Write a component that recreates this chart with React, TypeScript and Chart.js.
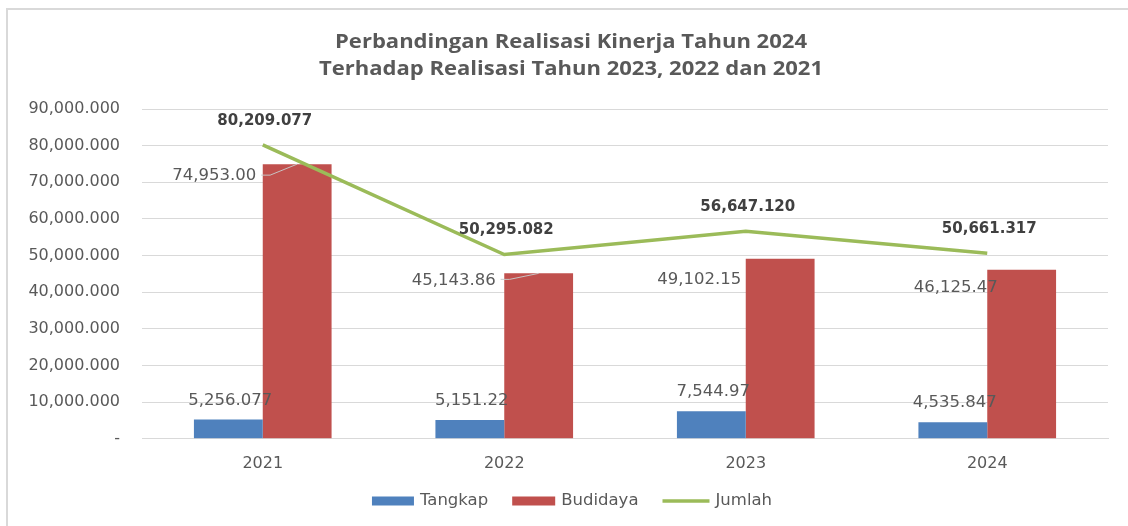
import React, { useEffect, useRef } from "react";
import { Chart, registerables } from "chart.js";

Chart.register(...registerables);

const categories = ["2021", "2022", "2023", "2024"];
const tangkap = [5256077, 5151220, 7544970, 4535847];
const budidaya = [74953000, 45143860, 49102150, 46125470];
const jumlah = [80209077, 50295082, 56647120, 50661317];

const tangkapLabels = ["5,256.077", "5,151.22", "7,544.97", "4,535.847"];
const budidayaLabels = ["74,953.00", "45,143.86", "49,102.15", "46,125.47"];
const jumlahLabels = ["80,209.077", "50,295.082", "56,647.120", "50,661.317"];

const yTickLabels = [
  "-",
  "10,000.000",
  "20,000.000",
  "30,000.000",
  "40,000.000",
  "50,000.000",
  "60,000.000",
  "70,000.000",
  "80,000.000",
  "90,000.000",
];
const yMax = 90000000;
const yStep = 10000000;

const titleLines = [
  "Perbandingan Realisasi Kinerja Tahun 2024",
  "Terhadap Realisasi Tahun 2023, 2022 dan 2021",
];

const seriesNames = ["Tangkap", "Budidaya", "Jumlah"];
const seriesColors = ["#4F81BD", "#C0504D", "#9BBB59"];

// label placement (relative to the bar element, in px)
const budidayaLabelPlacement = [
  { dx: -83, dy: 12, leader: true },
  { dx: -85, dy: 7, leader: true },
  { dx: -81, dy: 21, leader: false },
  { dx: -66, dy: 18, leader: false },
];

const FONT = '"DejaVu Sans", sans-serif';
const TEXT = "#595959";

const titlePlugin = {
  id: "stretchedTitle",
  afterDraw(chart: any) {
    const ctx = chart.ctx;
    ctx.save();
    ctx.font = `bold 19.5px "Open Sans", sans-serif`;
    ctx.fillStyle = TEXT;
    ctx.textAlign = "center";
    ctx.textBaseline = "alphabetic";
    const cx = 571;
    const baselines = [47.5, 74.5];
    titleLines.forEach((line, i) => {
      ctx.save();
      ctx.translate(cx, baselines[i]);
      ctx.scale(1.13, 1);
      ctx.fillText(line, 0, 0);
      ctx.restore();
    });
    ctx.restore();
  },
};

const legendPlugin = {
  id: "customLegend",
  afterDraw(chart: any) {
    const ctx = chart.ctx;
    ctx.save();
    ctx.font = `16.5px ${FONT}`;
    ctx.textBaseline = "middle";
    ctx.textAlign = "left";
    const boxW = [42, 43, 47];
    const gapBox = 6;
    const gapItem = 24;
    const widths = seriesNames.map((n, i) => boxW[i] + gapBox + ctx.measureText(n).width);
    const total = widths.reduce((a, b) => a + b, 0) + gapItem * (seriesNames.length - 1);
    let x = 572 - total / 2;
    const y = 501;
    seriesNames.forEach((n, i) => {
      if (i < 2) {
        ctx.fillStyle = seriesColors[i];
        ctx.fillRect(x, y - 4.5, boxW[i], 9);
      } else {
        ctx.strokeStyle = seriesColors[i];
        ctx.lineWidth = 3.5;
        ctx.beginPath();
        ctx.moveTo(x, y);
        ctx.lineTo(x + boxW[i], y);
        ctx.stroke();
      }
      ctx.fillStyle = TEXT;
      ctx.fillText(n, x + boxW[i] + gapBox, y);
      x += widths[i] + gapItem;
    });
    ctx.restore();
  },
};

const labelPlugin = {
  id: "valueLabels",
  afterDatasetsDraw(chart: any) {
    const ctx = chart.ctx;
    ctx.save();
    ctx.textAlign = "center";
    ctx.textBaseline = "middle";
    // Tangkap
    const m0 = chart.getDatasetMeta(0);
    ctx.font = `16.5px ${FONT}`;
    ctx.fillStyle = TEXT;
    m0.data.forEach((el: any, i: number) => {
      ctx.fillText(tangkapLabels[i], el.x + 2, el.y - 19);
    });
    // Budidaya
    const m1 = chart.getDatasetMeta(1);
    m1.data.forEach((el: any, i: number) => {
      const p = budidayaLabelPlacement[i];
      const tx = el.x + p.dx;
      const ty = el.y + p.dy;
      ctx.fillStyle = TEXT;
      ctx.fillText(budidayaLabels[i], tx, ty);
      if (p.leader) {
        const w = ctx.measureText(budidayaLabels[i]).width;
        const sx = tx + w / 2 + 5;
        const sy = ty - 1;
        ctx.beginPath();
        ctx.strokeStyle = "rgba(200,200,200,0.95)";
        ctx.lineWidth = 1;
        ctx.moveTo(sx, sy);
        ctx.lineTo(sx + 9, sy);
        ctx.lineTo(el.x, el.y);
        ctx.stroke();
      }
    });
    // Jumlah
    const m2 = chart.getDatasetMeta(2);
    ctx.font = `bold 15px ${FONT}`;
    ctx.fillStyle = "#404040";
    m2.data.forEach((el: any, i: number) => {
      ctx.fillText(jumlahLabels[i], el.x + 2, el.y - 24);
    });
    ctx.restore();
  },
};

export default function App() {
  const ref = useRef<HTMLCanvasElement | null>(null);

  useEffect(() => {
    if (!ref.current) return;
    const chart = new Chart(ref.current, {
      type: "bar",
      data: {
        labels: categories,
        datasets: [
          {
            type: "bar",
            label: seriesNames[0],
            data: tangkap,
            backgroundColor: seriesColors[0],
            borderWidth: 0,
            categoryPercentage: 0.57,
            barPercentage: 1,
            order: 1,
          } as any,
          {
            type: "bar",
            label: seriesNames[1],
            data: budidaya,
            backgroundColor: seriesColors[1],
            borderWidth: 0,
            categoryPercentage: 0.57,
            barPercentage: 1,
            order: 1,
          } as any,
          {
            type: "line",
            label: seriesNames[2],
            data: jumlah,
            borderColor: seriesColors[2],
            backgroundColor: seriesColors[2],
            borderWidth: 3.5,
            pointRadius: 0,
            pointHoverRadius: 0,
            tension: 0,
            order: 0,
          } as any,
        ],
      },
      options: {
        responsive: false,
        animation: false,
        layout: { padding: { left: 0, right: 20, top: 109, bottom: 38 } },
        plugins: {
          title: { display: false },
          legend: { display: false },
          tooltip: { enabled: false },
        },
        scales: {
          x: {
            grid: { display: false, drawTicks: false },
            border: { display: true, color: "#d9d9d9" },
            ticks: { color: TEXT, font: { family: FONT, size: 16 }, padding: 15 },
          },
          y: {
            min: 0,
            max: yMax,
            afterFit: (scale: any) => {
              scale.width = 142;
            },
            grid: { color: "#d9d9d9", drawTicks: false },
            border: { display: false },
            ticks: {
              stepSize: yStep,
              padding: 22,
              color: TEXT,
              font: { family: FONT, size: 16 },
              callback: (_v: any, i: number) => yTickLabels[i],
            },
          },
        },
      },
      plugins: [labelPlugin, titlePlugin, legendPlugin],
    });
    return () => chart.destroy();
  }, []);

  return (
    <div
      style={{
        position: "absolute",
        left: 0,
        top: 0,
        width: 1128,
        height: 526,
        overflow: "hidden",
        background: "#ffffff",
      }}
    >
      <div
        style={{
          position: "absolute",
          left: 6,
          top: 8,
          width: 1300,
          height: 700,
          borderLeft: "2px solid #d9d9d9",
          borderTop: "2px solid #d9d9d9",
        }}
      />
      <canvas
        ref={ref}
        width={1128}
        height={526}
        style={{ position: "absolute", left: 0, top: 0, width: 1128, height: 526 }}
      />
    </div>
  );
}
